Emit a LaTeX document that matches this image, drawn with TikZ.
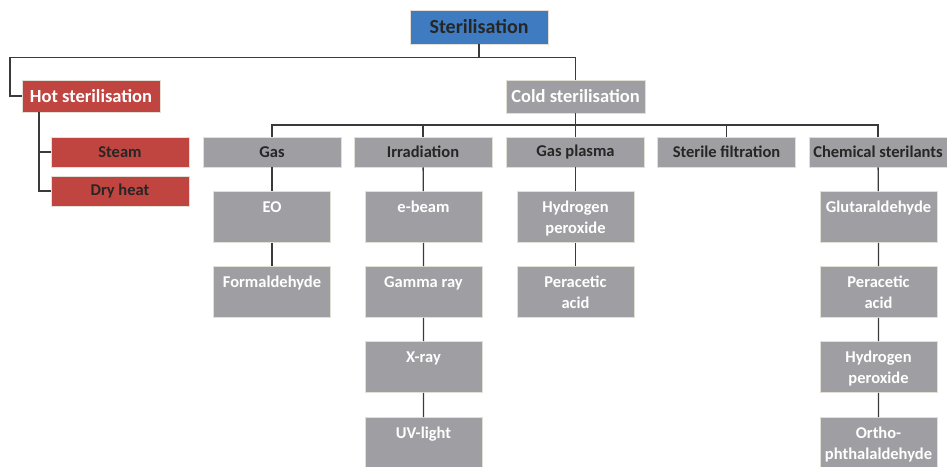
\documentclass[tikz,border=0pt]{standalone}
\usepackage{fontspec}
\setmainfont{Carlito}
\definecolor{cblue}{HTML}{3F7BC0}
\definecolor{cred}{HTML}{C0443F}
\definecolor{cgray}{HTML}{9E9EA3}
\definecolor{cborder}{HTML}{E2DFD6}
\definecolor{cline}{HTML}{3A3A3A}
\definecolor{cdark}{HTML}{262626}
\newcommand{\lvthree}[1]{\parbox[c][51pt][t]{117pt}{\centering\rule{0pt}{21pt}#1}}
\begin{document}
\begin{tikzpicture}[x=1pt,y=-1pt,
  base/.style={draw=cborder,line width=0.8pt,inner sep=0pt,font=\bfseries\fontsize{16.5}{21}\selectfont,align=center},
  topbox/.style={base,fill=cblue,text=cdark,minimum width=138pt,minimum height=34pt,font=\bfseries\fontsize{20}{24}\selectfont},
  hotbox/.style={base,fill=cred,text=white,minimum width=138pt,minimum height=32pt,font=\bfseries\fontsize{18.5}{22}\selectfont},
  coldbox/.style={base,fill=cgray,text=white,minimum width=139pt,minimum height=33pt,font=\bfseries\fontsize{18.5}{22}\selectfont},
  redbox/.style={base,fill=cred,text=cdark,minimum width=138pt,minimum height=30pt},
  catbox/.style={base,fill=cgray,text=cdark,minimum width=138pt,minimum height=30pt},
  leafbox/.style={base,fill=cgray,text=white},
  conn/.style={draw=cline,line width=1.3pt}]
\useasboundingbox (0,0) rectangle (947,466);
% level 0 and 1
\node[topbox] (ster) at (479,27) {Sterilisation};
\node[hotbox] (hot) at (91,96) {Hot sterilisation};
\node[coldbox] (cold) at (575.5,96.5) {Cold sterilisation};
% hot children
\node[redbox] (steam) at (120,152) {Steam};
\node[redbox] (dry) at (120,191) {Dry heat};
% cold categories
\node[catbox] (gas) at (272,152) {Gas};
\node[catbox] (irr) at (423,152) {Irradiation};
\node[catbox] (gp) at (575.5,152) {Gas plasma};
\node[catbox] (sf) at (726.5,152) {Sterile filtration};
\node[catbox] (cs) at (878,152) {Chemical sterilants};
% leaves
\node[leafbox,anchor=north] (eo) at (272,191) {\lvthree{EO}};
\node[leafbox,anchor=north] (form) at (272,266) {\lvthree{Formaldehyde}};
\node[leafbox,anchor=north] (eb) at (423.5,191) {\lvthree{e-beam}};
\node[leafbox,anchor=north] (gam) at (423.5,266) {\lvthree{Gamma ray}};
\node[leafbox,anchor=north] (xr) at (423.5,341) {\lvthree{X-ray}};
\node[leafbox,anchor=north] (uv) at (423.5,417) {\lvthree{UV-light}};
\node[leafbox,anchor=north] (hp) at (575.5,191) {\lvthree{Hydrogen\\peroxide}};
\node[leafbox,anchor=north] (pa) at (575.5,266) {\lvthree{Peracetic\\acid}};
\node[leafbox,anchor=north] (glu) at (878.5,191) {\lvthree{Glutaraldehyde}};
\node[leafbox,anchor=north] (pa2) at (878.5,266) {\lvthree{Peracetic\\acid}};
\node[leafbox,anchor=north] (hp2) at (878.5,341) {\lvthree{Hydrogen\\peroxide}};
\node[leafbox,anchor=north] (oph) at (878.5,417) {\lvthree{Ortho-\\phthalaldehyde}};
% coordinates
\coordinate (hk) at (10,96);
\coordinate (hs) at (39,112);
\coordinate (cbar) at (575.5,125);
% connectors
\draw[conn] (ster.south) -- ++(0,13) -| (cold.north);
\draw[conn] (ster.south) ++(0,13) -| (hk) -- (hot.west);
\draw[conn] (hs) |- (steam.west);
\draw[conn] (hs) |- (dry.west);
\draw[conn] (cold.south) -- (gp.north);
\draw[conn] (gas.north) |- (cbar) -| (cs.north);
\draw[conn] (irr.north) -- (irr.north |- cbar);
\draw[conn] (sf.north) -- (sf.north |- cbar);
\draw[conn] (gas) -- (eo) (eo) -- (form);
\draw[conn] (irr) -- (eb) (eb) -- (gam) (gam) -- (xr) (xr) -- (uv);
\draw[conn] (gp) -- (hp) (hp) -- (pa);
\draw[conn] (cs) -- (glu) (glu) -- (pa2) (pa2) -- (hp2) (hp2) -- (oph);
\end{tikzpicture}
\end{document}
